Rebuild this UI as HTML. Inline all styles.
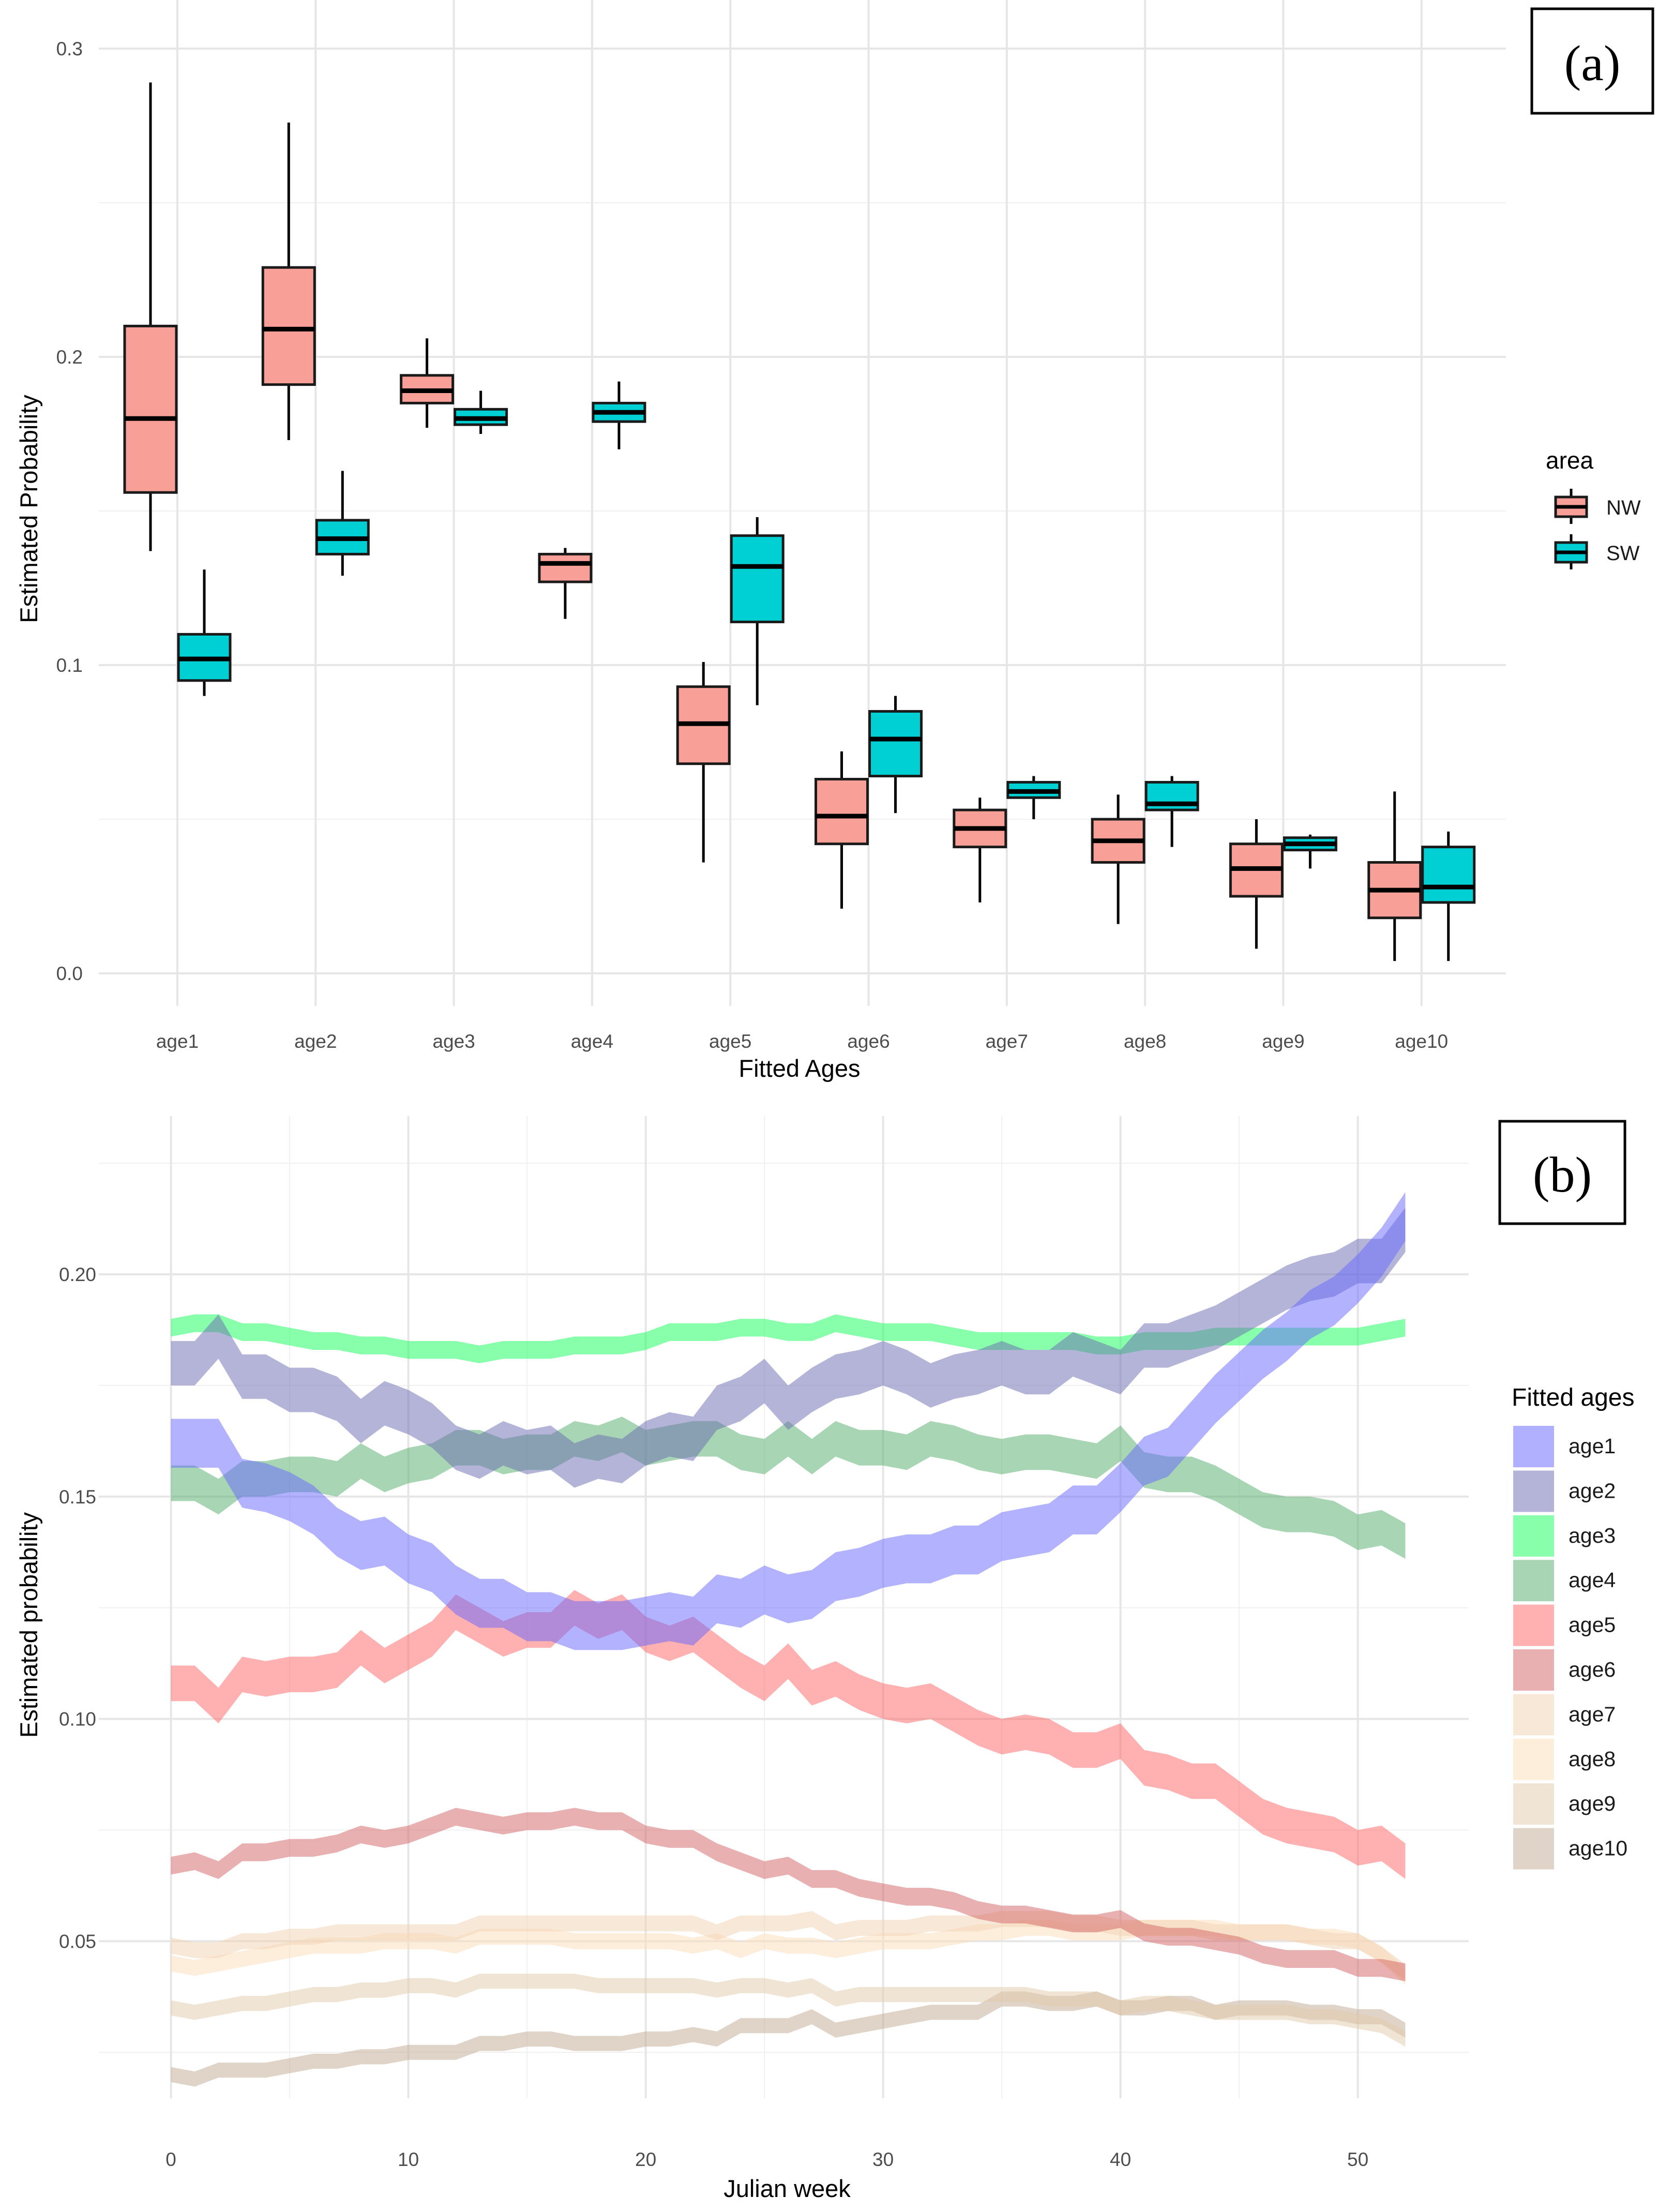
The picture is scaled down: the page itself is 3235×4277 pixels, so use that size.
<!DOCTYPE html>
<html><head><meta charset="utf-8"><style>
html,body{margin:0;padding:0;background:#fff;}
svg{display:block;font-family:"Liberation Sans",sans-serif;}
</style></head><body>
<svg id="chart" width="3235" height="4277" viewBox="0 0 3235 4277" xmlns="http://www.w3.org/2000/svg">
<g id="pa"></g>
<g id="pb"></g>
</svg>
<script>
// ---------- Panel (a) data ----------
const ageCats = ["age1","age2","age3","age4","age5","age6","age7","age8","age9","age10"];
const nwLow   = [0.137,0.173,0.177,0.115,0.036,0.021,0.023,0.016,0.008,0.004];
const nwQ1    = [0.156,0.191,0.185,0.127,0.068,0.042,0.041,0.036,0.025,0.018];
const nwMed   = [0.180,0.209,0.189,0.133,0.081,0.051,0.047,0.043,0.034,0.027];
const nwQ3    = [0.210,0.229,0.194,0.136,0.093,0.063,0.053,0.050,0.042,0.036];
const nwHigh  = [0.289,0.276,0.206,0.138,0.101,0.072,0.057,0.058,0.050,0.059];
const swLow   = [0.090,0.129,0.175,0.170,0.087,0.052,0.050,0.041,0.034,0.004];
const swQ1    = [0.095,0.136,0.178,0.179,0.114,0.064,0.057,0.053,0.040,0.023];
const swMed   = [0.102,0.141,0.180,0.182,0.132,0.076,0.059,0.055,0.042,0.028];
const swQ3    = [0.110,0.147,0.183,0.185,0.142,0.085,0.062,0.062,0.044,0.041];
const swHigh  = [0.131,0.163,0.189,0.192,0.148,0.090,0.064,0.064,0.045,0.046];
const aTicks  = [0.0,0.1,0.2,0.3];
const aTickLabels = ["0.0","0.1","0.2","0.3"];

// ---------- Panel (b) data ----------
const weeks = Array.from({length:53},(_, i)=>i);
const bSeriesNames = ["age1","age2","age3","age4","age5","age6","age7","age8","age9","age10"];
const age1Mid = [0.162,0.162,0.162,0.153,0.152,0.150,0.147,0.142,0.139,0.140,0.136,0.134,0.129,0.126,0.126,0.123,0.123,0.121,0.121,0.121,0.122,0.123,0.122,0.127,0.126,0.129,0.127,0.128,0.132,0.133,0.135,0.136,0.136,0.138,0.138,0.141,0.142,0.143,0.147,0.147,0.152,0.158,0.160,0.166,0.172,0.177,0.182,0.186,0.191,0.194,0.199,0.205,0.213];
const age2Mid = [0.180,0.180,0.186,0.177,0.177,0.174,0.174,0.172,0.167,0.171,0.169,0.166,0.161,0.159,0.162,0.160,0.161,0.157,0.159,0.158,0.162,0.164,0.163,0.170,0.172,0.176,0.170,0.174,0.177,0.178,0.180,0.178,0.175,0.177,0.178,0.180,0.178,0.178,0.182,0.180,0.178,0.184,0.184,0.186,0.188,0.191,0.194,0.197,0.199,0.200,0.203,0.203,0.210];
const age3Mid = [0.188,0.189,0.189,0.187,0.187,0.186,0.185,0.185,0.184,0.184,0.183,0.183,0.183,0.182,0.183,0.183,0.183,0.184,0.184,0.184,0.185,0.187,0.187,0.187,0.188,0.188,0.187,0.187,0.189,0.188,0.187,0.187,0.187,0.186,0.185,0.185,0.185,0.185,0.185,0.184,0.184,0.185,0.185,0.185,0.186,0.186,0.186,0.186,0.186,0.186,0.186,0.187,0.188];
const age4Mid = [0.153,0.153,0.150,0.154,0.154,0.155,0.155,0.154,0.158,0.155,0.157,0.158,0.161,0.161,0.159,0.160,0.160,0.163,0.162,0.164,0.161,0.162,0.163,0.163,0.160,0.159,0.163,0.159,0.163,0.161,0.161,0.160,0.163,0.162,0.160,0.159,0.160,0.160,0.159,0.158,0.162,0.156,0.155,0.155,0.153,0.150,0.147,0.146,0.146,0.145,0.142,0.143,0.140];
const age5Mid = [0.108,0.108,0.103,0.110,0.109,0.110,0.110,0.111,0.116,0.112,0.115,0.118,0.124,0.121,0.118,0.120,0.120,0.125,0.122,0.124,0.119,0.117,0.119,0.115,0.111,0.108,0.113,0.107,0.109,0.106,0.104,0.103,0.104,0.101,0.098,0.096,0.097,0.096,0.093,0.093,0.095,0.089,0.088,0.086,0.086,0.082,0.078,0.076,0.075,0.074,0.071,0.072,0.068];
const age6Mid = [0.067,0.068,0.066,0.070,0.070,0.071,0.071,0.072,0.074,0.073,0.074,0.076,0.078,0.077,0.076,0.077,0.077,0.078,0.077,0.077,0.074,0.073,0.073,0.070,0.068,0.066,0.067,0.064,0.064,0.062,0.061,0.060,0.060,0.059,0.057,0.056,0.056,0.055,0.054,0.054,0.055,0.052,0.051,0.051,0.050,0.049,0.047,0.046,0.046,0.046,0.044,0.044,0.043];
const age7Mid = [0.049,0.048,0.048,0.050,0.050,0.051,0.051,0.052,0.052,0.052,0.052,0.052,0.052,0.054,0.054,0.054,0.054,0.054,0.054,0.054,0.054,0.054,0.054,0.052,0.054,0.054,0.054,0.055,0.052,0.053,0.053,0.053,0.054,0.054,0.054,0.055,0.055,0.055,0.054,0.054,0.053,0.053,0.053,0.053,0.052,0.052,0.052,0.052,0.051,0.050,0.050,0.047,0.043];
const age8Mid = [0.045,0.044,0.045,0.046,0.047,0.048,0.049,0.049,0.049,0.050,0.050,0.050,0.049,0.051,0.051,0.051,0.051,0.050,0.050,0.050,0.050,0.050,0.049,0.050,0.048,0.050,0.049,0.049,0.048,0.049,0.050,0.050,0.050,0.051,0.052,0.052,0.053,0.053,0.052,0.052,0.052,0.053,0.053,0.053,0.053,0.052,0.052,0.052,0.051,0.051,0.050,0.047,0.042];
const age9Mid = [0.035,0.034,0.035,0.036,0.036,0.037,0.038,0.038,0.039,0.039,0.040,0.040,0.039,0.041,0.041,0.041,0.041,0.041,0.040,0.040,0.040,0.040,0.040,0.039,0.040,0.040,0.039,0.040,0.037,0.038,0.038,0.038,0.038,0.038,0.038,0.038,0.038,0.037,0.037,0.037,0.035,0.036,0.036,0.035,0.034,0.034,0.034,0.034,0.033,0.033,0.032,0.031,0.028];
const age10Mid = [0.020,0.019,0.021,0.021,0.021,0.022,0.023,0.023,0.024,0.024,0.025,0.025,0.025,0.027,0.027,0.028,0.028,0.027,0.027,0.027,0.028,0.028,0.029,0.028,0.031,0.031,0.031,0.033,0.030,0.031,0.032,0.033,0.034,0.034,0.034,0.037,0.037,0.036,0.036,0.037,0.035,0.035,0.036,0.036,0.034,0.035,0.035,0.035,0.034,0.034,0.033,0.033,0.030];
const bHalfWidth = [0.0055,0.005,0.002,0.004,0.004,0.002,0.0018,0.0018,0.0017,0.0017];
const bTicks = [0.05,0.10,0.15,0.20];
const bTickLabels = ["0.05","0.10","0.15","0.20"];
const xTicks = [0,10,20,30,40,50];
const xTickLabels = ["0","10","20","30","40","50"];

const NS = "http://www.w3.org/2000/svg";
function mk(parent, tag, attrs, text){
  const e = document.createElementNS(NS, tag);
  for (const k in attrs) e.setAttribute(k, attrs[k]);
  if (text !== undefined) e.textContent = text;
  parent.appendChild(e);
  return e;
}

// ===== Panel A =====
const pa = document.getElementById("pa");
const ayA = v => 1882 - v * 5960;
const axA = i => 343 + i * 267.3;
const AL = 191, AR = 2912, AT = 0, AB = 1945;
for (let v = 0.05; v < 0.31; v += 0.1) {
  const l = mk(pa, "line", {x1:AL, x2:AR, y1:ayA(v), y2:ayA(v), stroke:"#f0f0f0", "stroke-width":2});
  
  
}
aTicks.forEach((v, i) => {
  const l = mk(pa, "line", {x1:AL, x2:AR, y1:ayA(v), y2:ayA(v), stroke:"#e6e6e6", "stroke-width":4});
  
  
  const t = mk(pa, "text", {x:160, y:ayA(v) + 13, "text-anchor":"end", "font-size":37, fill:"#4d4d4d"}, aTickLabels[i]);
  
  
});
ageCats.forEach((c, i) => {
  const l = mk(pa, "line", {x1:axA(i), x2:axA(i), y1:AT, y2:AB, stroke:"#e6e6e6", "stroke-width":4});
  
  
  const t = mk(pa, "text", {x:axA(i), y:2026, "text-anchor":"middle", "font-size":37, fill:"#4d4d4d"}, c);
  
  
});
function box(i, off, lo, q1, md, q3, hi, fill, nm){
  const g = mk(pa, "g", {});
  
  
  const cx = axA(i) + off, w = 100;
  mk(g, "line", {x1:cx, x2:cx, y1:ayA(hi), y2:ayA(q3), stroke:"#000", "stroke-width":5});
  mk(g, "line", {x1:cx, x2:cx, y1:ayA(q1), y2:ayA(lo), stroke:"#000", "stroke-width":5});
  mk(g, "rect", {x:cx - w/2, y:ayA(q3), width:w, height:ayA(q1) - ayA(q3), fill:fill, stroke:"#1a1a1a", "stroke-width":5});
  mk(g, "line", {x1:cx - w/2, x2:cx + w/2, y1:ayA(md), y2:ayA(md), stroke:"#000", "stroke-width":9});
}
ageCats.forEach((c, i) => {
  box(i, -52, nwLow[i], nwQ1[i], nwMed[i], nwQ3[i], nwHigh[i], "#f8a097", "box-nw-" + c);
  box(i, 52, swLow[i], swQ1[i], swMed[i], swQ3[i], swHigh[i], "#00d0d4", "box-sw-" + c);
});
let t;
t = mk(pa, "text", {x:1546, y:2082, "text-anchor":"middle", "font-size":47, fill:"#000"}, "Fitted Ages");
 
t = mk(pa, "text", {x:0, y:0, "text-anchor":"middle", "font-size":47, fill:"#000", transform:"translate(72,984) rotate(-90)"}, "Estimated Probability");
 
t = mk(pa, "text", {x:2989, y:906, "font-size":46, fill:"#000"}, "area");
 
[["NW","#f8a097",953],["SW","#00d0d4",1041]].forEach(([lab, col, y]) => {
  const g = mk(pa, "g", {});
  
  
  mk(g, "line", {x1:3038, x2:3038, y1:y - 8, y2:y + 60, stroke:"#000", "stroke-width":5});
  mk(g, "rect", {x:3008, y:y + 8, width:60, height:38, fill:col, stroke:"#1a1a1a", "stroke-width":5});
  mk(g, "line", {x1:3008, x2:3068, y1:y + 27, y2:y + 27, stroke:"#000", "stroke-width":7});
  mk(g, "text", {x:3106, y:y + 42, "font-size":40, fill:"#1a1a1a"}, lab);
});
const la = mk(pa, "g", {});
 
mk(la, "rect", {x:2962, y:17, width:234, height:202, fill:"#fff", stroke:"#000", "stroke-width":5});
mk(la, "text", {x:3079, y:155, "text-anchor":"middle", "font-size":98, "font-family":"Liberation Serif, serif", fill:"#000"}, "(a)");

// ===== Panel B =====
const pb = document.getElementById("pb");
const ayB = v => 2464 + (0.20 - v) * 8596;
const axB = w => 330.6 + w * 45.9;
const BL = 191, BR = 2840, BT = 2158, BB = 4057;
for (let v = 0.025; v < 0.23; v += 0.05) {
  const l = mk(pb, "line", {x1:BL, x2:BR, y1:ayB(v), y2:ayB(v), stroke:"#f0f0f0", "stroke-width":2});
   
}
for (let w = 5; w <= 45; w += 10) {
  const l = mk(pb, "line", {x1:axB(w), x2:axB(w), y1:BT, y2:BB, stroke:"#f0f0f0", "stroke-width":2});
   
}
bTicks.forEach((v, i) => {
  const l = mk(pb, "line", {x1:BL, x2:BR, y1:ayB(v), y2:ayB(v), stroke:"#e6e6e6", "stroke-width":4});
   
  const tt = mk(pb, "text", {x:186, y:ayB(v) + 13, "text-anchor":"end", "font-size":37, fill:"#4d4d4d"}, bTickLabels[i]);
   
});
xTicks.forEach((w, i) => {
  const l = mk(pb, "line", {x1:axB(w), x2:axB(w), y1:BT, y2:BB, stroke:"#e6e6e6", "stroke-width":4});
   
  const tt = mk(pb, "text", {x:axB(w), y:4188, "text-anchor":"middle", "font-size":37, fill:"#4d4d4d"}, xTickLabels[i]);
   
});
const bMids = [age1Mid,age2Mid,age3Mid,age4Mid,age5Mid,age6Mid,age7Mid,age8Mid,age9Mid,age10Mid];
const bandCols = ["rgb(101,101,255)","rgb(105,105,177)","rgb(17,255,85)","rgb(81,173,105)","rgb(255,97,97)","rgb(209,97,97)","rgb(241,209,177)","rgb(251,221,185)","rgb(225,201,169)","rgb(193,169,145)"];
const legCols = ["#b0b0ff","#b4b4d8","#88ffaa","#a8d6b4","#ffb0b0","#e8b0b0","#f8e8d8","#fdeedc","#f0e4d4","#e0d4c8"];
const drawOrder = [9,8,7,6,5,4,3,2,1,0];
drawOrder.forEach(k => {
  const mid = bMids[k], hw = bHalfWidth[k];
  let d = "";
  weeks.forEach((w, i) => { d += (i ? "L" : "M") + axB(w).toFixed(1) + "," + ayB(mid[i] + hw).toFixed(1); });
  for (let i = weeks.length - 1; i >= 0; i--) d += "L" + axB(weeks[i]).toFixed(1) + "," + ayB(mid[i] - hw).toFixed(1);
  d += "Z";
  const p = mk(pb, "path", {d:d, fill:bandCols[k], "fill-opacity":0.5});
  
  
});
t = mk(pb, "text", {x:1522, y:4248, "text-anchor":"middle", "font-size":47, fill:"#000"}, "Julian week");
 
t = mk(pb, "text", {x:0, y:0, "text-anchor":"middle", "font-size":47, fill:"#000", transform:"translate(72,3142) rotate(-90)"}, "Estimated probability");
 
t = mk(pb, "text", {x:2923, y:2718, "font-size":48, fill:"#000"}, "Fitted ages");
 
bSeriesNames.forEach((nm, k) => {
  const y = 2757 + k * 86.4;
  const g = mk(pb, "g", {});
  
  
  mk(g, "rect", {x:2926, y:y, width:79, height:80, fill:legCols[k]});
  mk(g, "text", {x:3033, y:y + 53, "font-size":41, fill:"#1a1a1a"}, nm);
});
const lb = mk(pb, "g", {});
 
mk(lb, "rect", {x:2900, y:2168, width:242, height:198, fill:"#fff", stroke:"#000", "stroke-width":5});
mk(lb, "text", {x:3021, y:2304, "text-anchor":"middle", "font-size":98, "font-family":"Liberation Serif, serif", fill:"#000"}, "(b)");
</script>
</body></html>
